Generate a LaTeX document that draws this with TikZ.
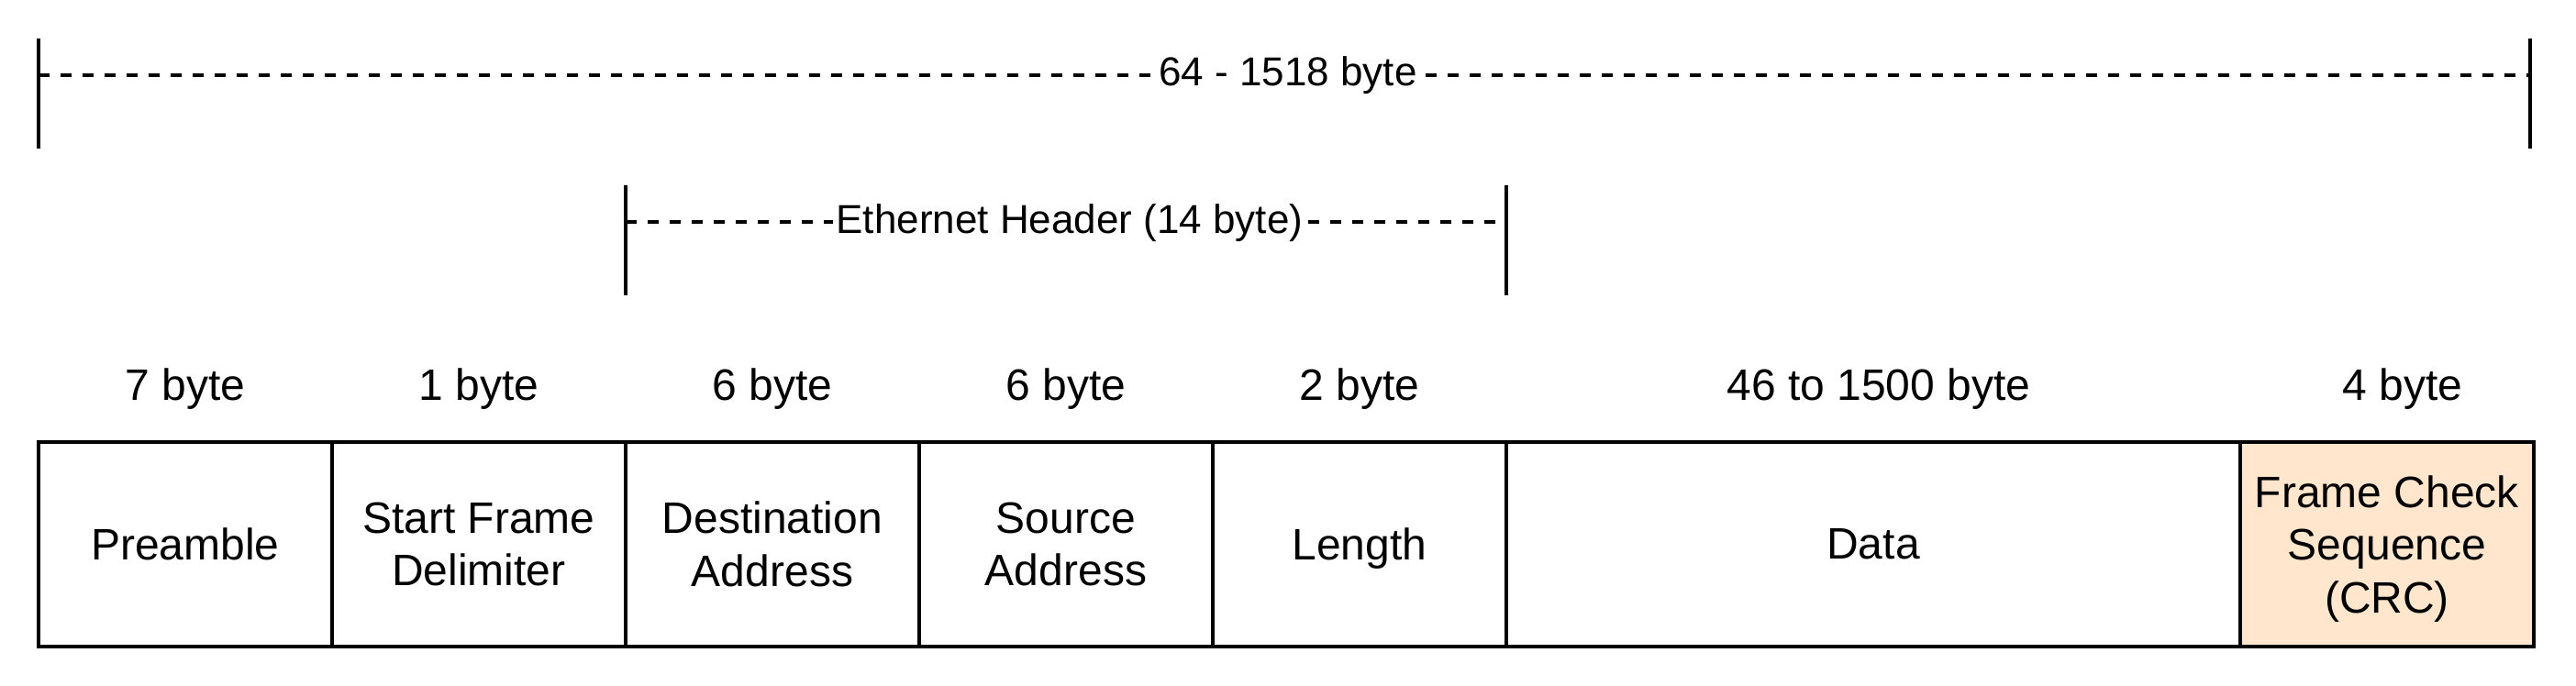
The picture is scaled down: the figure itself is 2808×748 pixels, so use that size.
\documentclass[tikz,border=0pt]{standalone}
\usepackage{fontspec}
\setmainfont{Liberation Sans}
\definecolor{fcsfill}{HTML}{FFE6CC}
\newcommand{\fsz}{\fontsize{12}{14.4}\selectfont}
\newcommand{\fszs}{\fontsize{11}{13.2}\selectfont}
\begin{document}
\begin{tikzpicture}[x=0.25pt,y=-0.25pt,
  field/.style={draw=black,line width=1pt,minimum width=80pt,minimum height=55.75pt,inner sep=0pt,align=center,font=\fsz},
  lbl/.style={font=\fsz,inner sep=0pt,text depth=0pt},
  tick/.style={line width=1pt},
  dim/.style={line width=1pt,dash pattern=on 3pt off 3pt},
  dimlabel/.style={fill=white,inner sep=0.8pt,font=\fszs}]
\useasboundingbox (0,0) rectangle (2808,748);
% fields
\node[field] (pre) at (202,593.5) {Preamble};
\node[field] (sfd) at (522,593.5) {Start Frame\\Delimiter};
\node[field] (dst) at (842,593.5) {Destination\\Address};
\node[field] (src) at (1162,593.5) {Source\\Address};
\node[field,text depth=0pt] (len) at (1482,593.5) {Length};
\node[field,minimum width=200pt] (data) at (2042,593.5) {Data};
\node[field,fill=fcsfill] (fcs) at (2602,593.5) {};
\node[align=center,font=\fsz,inner sep=0pt] (fcstext) at (2602,598.5) {Frame Check\\Sequence\\(CRC)};
% byte labels
\node[lbl] (bpre) at (202,419) {7 byte};
\node[lbl] (bsfd) at (522,419) {1 byte};
\node[lbl] (bdst) at (842,419) {6 byte};
\node[lbl] (bsrc) at (1162,419) {6 byte};
\node[lbl] (blen) at (1482,419) {2 byte};
\node[lbl] (bdata) at (2048,419) {46 to 1500 byte};
\node[lbl] (bfcs) at (2619,419) {4 byte};
% total frame dimension
\coordinate (tl1) at (42,42);
\coordinate (tl2) at (42,162);
\coordinate (tlm) at (42,82);
\coordinate (tr1) at (2758,42);
\coordinate (tr2) at (2758,162);
\coordinate (trm) at (2758,82);
\draw[tick] (tl1) -- (tl2);
\draw[tick] (tr1) -- (tr2);
\draw[dim] (tlm) -- (trm);
\node[dimlabel] (total) at (1404,82) {64 - 1518 byte};
% ethernet header dimension
\coordinate (el1) at (682,202);
\coordinate (el2) at (682,322);
\coordinate (elm) at (682,242);
\coordinate (er1) at (1642,202);
\coordinate (er2) at (1642,322);
\coordinate (erm) at (1642,242);
\draw[tick] (el1) -- (el2);
\draw[tick] (er1) -- (er2);
\draw[dim] (elm) -- (erm);
\node[dimlabel] (eth) at (1166,243) {Ethernet Header (14 byte)};
\end{tikzpicture}
\end{document}
